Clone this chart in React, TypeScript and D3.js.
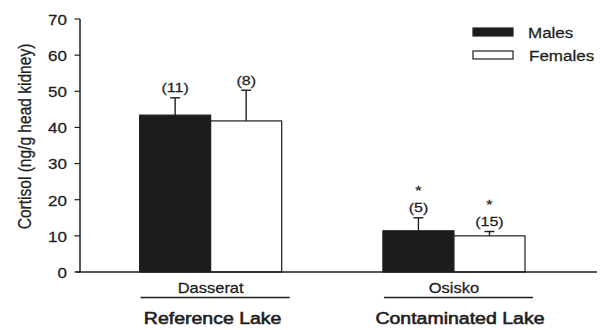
import React from 'react';
import * as d3 from 'd3';

// values
const lakes = ['Dasserat', 'Osisko'];
const lakeTypes = ['Reference Lake', 'Contaminated Lake'];
const sexes = ['Males', 'Females'];
const means = [[43.4, 41.8], [11.4, 10.0]];
const errors = [[4.8, 8.5], [3.6, 1.2]];
const sampleSizes = [['(11)', '(8)'], ['(5)', '(15)']];
const significant = [[false, false], [true, true]];
const yTicks = [0, 10, 20, 30, 40, 50, 60, 70];

const W = 613;
const H = 330;
const font = 'Liberation Sans, Arial, sans-serif';
const ink = '#1e1e1e';
// the source figure is squashed vertically, so text is drawn a bit flattened
const SQ = 0.84;

const Txt = ({ x, y, size, anchor = 'middle', weight = 0.3, children }: any) => (
    <text transform={`translate(${x},${y}) scale(1,${SQ})`} textAnchor={anchor} fontSize={size} fill={ink}
        stroke={ink} strokeWidth={weight}>
        {children}
    </text>
);

const App = () => {
    const y = d3.scaleLinear().domain([0, 70]).range([272, 19]);
    const x = d3.scaleBand().domain(lakes).range([80, 584.6]).paddingInner(0.416).paddingOuter(0.245);
    const xs = d3.scaleBand().domain(sexes).range([0, x.bandwidth()]);
    const fills = ['#1c1c1c', '#ffffff'];

    return (
        <svg width={W} height={H} style={{ position: 'absolute', left: 0, top: 0 }} fontFamily={font}>
            {/* y axis */}
            <line x1={80} x2={80} y1={y(70)} y2={y(0)} stroke={ink} strokeWidth={1.5} />
            {yTicks.map(t => (
                <g key={t}>
                    <line x1={74.5} x2={80} y1={y(t)} y2={y(t)} stroke={ink} strokeWidth={1.2} />
                    <Txt x={67} y={y(t) + 5.8} size={17} anchor="end">{t}</Txt>
                </g>
            ))}
            <text transform={`translate(30.5,136.5) rotate(-90) scale(0.84,1)`} textAnchor="middle" fontSize={18.5} fill={ink}
                stroke={ink} strokeWidth={0.3}>
                Cortisol (ng/g head kidney)
            </text>

            {/* bars */}
            {lakes.map((lake, i) => (
                <g key={lake} transform={`translate(${x(lake)},0)`}>
                    {sexes.map((s, j) => {
                        const bx = xs(s) as number;
                        const cx = bx + xs.bandwidth() / 2;
                        const top = y(means[i][j] + errors[i][j]);
                        return (
                            <g key={s}>
                                <line x1={cx} x2={cx} y1={y(means[i][j])} y2={top} stroke={ink} strokeWidth={1.4} />
                                <line x1={cx - 5} x2={cx + 5} y1={top} y2={top} stroke={ink} strokeWidth={1.4} />
                                <rect x={bx} y={y(means[i][j])} width={xs.bandwidth()} height={y(0) - y(means[i][j])}
                                    fill={fills[j]} stroke={ink} strokeWidth={1.2} />
                                <Txt x={cx} y={top - 5.5} size={16}>{sampleSizes[i][j]}</Txt>
                                {significant[i][j] && (
                                    <Txt x={cx} y={top - 23} size={16}>*</Txt>
                                )}
                            </g>
                        );
                    })}
                </g>
            ))}

            {/* x baseline */}
            <line x1={76} x2={597} y1={y(0)} y2={y(0)} stroke={ink} strokeWidth={1.5} />

            {/* group labels */}
            {lakes.map((lake, i) => {
                const x0 = x(lake) as number;
                const cx = x0 + x.bandwidth() / 2;
                return (
                    <g key={lake}>
                        <Txt x={cx} y={293} size={16.5}>{lake}</Txt>
                        <line x1={x0 + 1} x2={x0 + x.bandwidth() + 8} y1={297.5} y2={297.5} stroke={ink} strokeWidth={1.5} />
                        <Txt x={cx + 4 * i + 2} y={324} size={19.5} weight={0.7}>{lakeTypes[i]}</Txt>
                    </g>
                );
            })}

            {/* legend */}
            {sexes.map((s, j) => (
                <g key={s} transform={`translate(473,${28 + j * 23})`}>
                    <rect x={0} y={0} width={40} height={8} fill={fills[j]} stroke={ink} strokeWidth={1.2} />
                    <Txt x={55 + j} y={10.3} size={17} anchor="start">{s}</Txt>
                </g>
            ))}
        </svg>
    );
};

export default App;
